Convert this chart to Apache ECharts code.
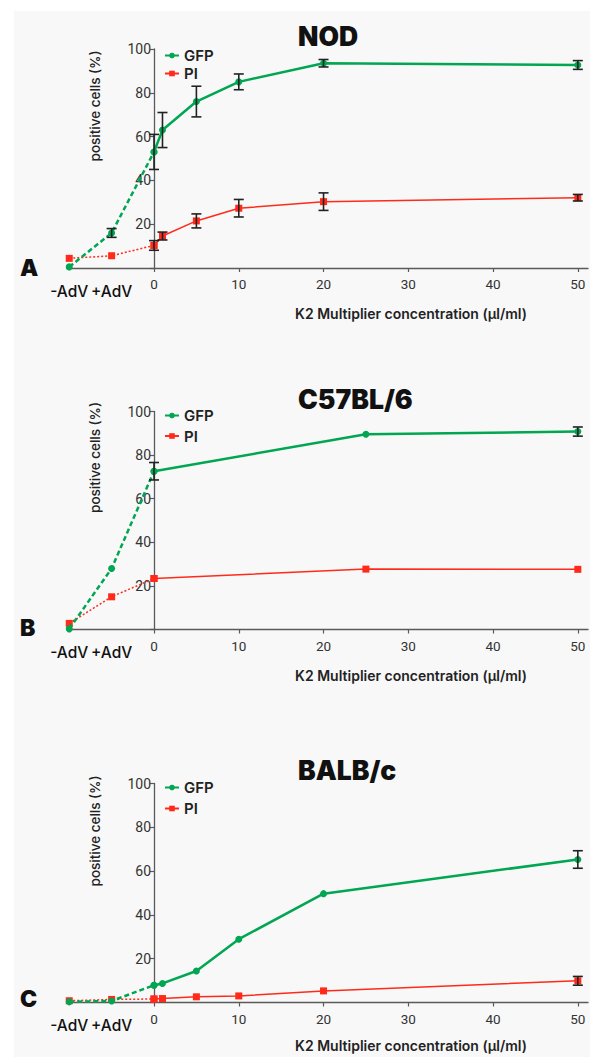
<!DOCTYPE html>
<html><head><meta charset="utf-8">
<script src="https://cdn.jsdelivr.net/npm/echarts@6/dist/echarts.min.js"></script>
<style>html,body{margin:0;padding:0;background:#fff}#c{width:590px;height:1057px}</style>
</head><body><div id="c"></div>
<script>
// ---- data ----
const panelTitles = ['NOD', 'C57BL/6', 'BALB/c'];
const panelLetters = ['A', 'B', 'C'];
const controlLabels = ['-AdV', '+AdV'];
const controlX = [-10, -5];
const xTicks = [0, 10, 20, 30, 40, 50];
const xAxisName = 'K2 Multiplier concentration (µl/ml)';
const yAxisName = 'positive cells (%)';

// Panel A (NOD)
const concA = [0, 1, 5, 10, 20, 50];
const gfpCtrlA = [0.5, 16];
const gfpCtrlErrA = [0, 2];
const gfpA = [53, 63, 76, 85, 93.5, 92.7];
const gfpErrA = [8, 8, 7, 3.6, 1.7, 2];
const piCtrlA = [4.4, 5.6];
const piCtrlErrA = [0, 0];
const piA = [10.3, 14.6, 21.5, 27.3, 30.3, 32.1];
const piErrA = [2.2, 1.8, 3.2, 4, 4, 1.5];

// Panel B (C57BL/6)
const concB = [0, 25, 50];
const gfpCtrlB = [0.3, 28];
const gfpCtrlErrB = [0, 0];
const gfpB = [72.6, 89.6, 90.8];
const gfpErrB = [4, 0, 2.1];
const piCtrlB = [2.8, 15];
const piCtrlErrB = [0, 0];
const piB = [23.4, 27.7, 27.6];
const piErrB = [0, 0, 0];

// Panel C (BALB/c)
const concC = [0, 1, 5, 10, 20, 50];
const gfpCtrlC = [0.3, 0.7];
const gfpCtrlErrC = [0, 0];
const gfpC = [7.9, 8.7, 14.4, 28.9, 49.7, 65.3];
const gfpErrC = [0, 0, 0, 0, 0, 4];
const piCtrlC = [0.8, 1.4];
const piCtrlErrC = [0, 0];
const piC = [1.6, 1.8, 2.6, 3.0, 5.3, 9.9];
const piErrC = [0, 0, 0, 0, 0, 2];

// ---- build ----
const panels = [
  {conc: concA, gfpCtrl: gfpCtrlA, gfpCtrlErr: gfpCtrlErrA, gfp: gfpA, gfpErr: gfpErrA, piCtrl: piCtrlA, piCtrlErr: piCtrlErrA, pi: piA, piErr: piErrA},
  {conc: concB, gfpCtrl: gfpCtrlB, gfpCtrlErr: gfpCtrlErrB, gfp: gfpB, gfpErr: gfpErrB, piCtrl: piCtrlB, piCtrlErr: piCtrlErrB, pi: piB, piErr: piErrB},
  {conc: concC, gfpCtrl: gfpCtrlC, gfpCtrlErr: gfpCtrlErrC, gfp: gfpC, gfpErr: gfpErrC, piCtrl: piCtrlC, piCtrlErr: piCtrlErrC, pi: piC, piErr: piErrC}
];

// layout (styles)
const GREEN = '#00a651', RED = '#ff2a1a', AXIS = '#5a5a5a';
const FONT = 'Inter';
const gridLeft = 66.7, gridRight = 2, xMin = -10.3, xMax = 51.2;
const yAxisOffset = -(590 - gridLeft - gridRight) * (0 - xMin) / (xMax - xMin);
const gridTops = [49, 411.5, 783.5];
const gridH = [219, 218, 219];
const legendTops = [43, 403, 775];
const legendGaps = [3, 5.5, 6];
const titleY = [35.5, 399, 770];
const letterY = [268, 628, 999];
const yNameY = [106, 457.5, 831];
const xNameY = [313, 675, 1045];

function pts(xs, ys) { return xs.map((x, i) => [x, ys[i]]); }

function errSeries(name, xs, ys, errs, gi) {
  const data = [];
  xs.forEach((x, i) => { if (errs[i]) data.push([x, ys[i], errs[i]]); });
  return {
    type: 'custom', name: name, xAxisIndex: gi, yAxisIndex: gi, z: 6, silent: true,
    data: data, encode: {x: 0, y: 1},
    renderItem: function (params, api) {
      const x = api.value(0), y = api.value(1), e = api.value(2);
      const t = api.coord([x, y + e]), b = api.coord([x, y - e]);
      const w = 5;
      const st = {stroke: '#222', lineWidth: 1.6};
      return {type: 'group', children: [
        {type: 'line', shape: {x1: t[0], y1: t[1], x2: b[0], y2: b[1]}, style: st},
        {type: 'line', shape: {x1: t[0] - w, y1: t[1], x2: t[0] + w, y2: t[1]}, style: st},
        {type: 'line', shape: {x1: b[0] - w, y1: b[1], x2: b[0] + w, y2: b[1]}, style: st}
      ]};
    }
  };
}

const grids = [], xAxes = [], yAxes = [], series = [], legends = [], graphics = [];

graphics.push({type: 'rect', left: 0, top: 0, shape: {width: 590, height: 11}, style: {fill: '#ffffff'}, z: -1});
graphics.push({type: 'rect', left: 0, top: 0, shape: {width: 14, height: 1057}, style: {fill: '#ffffff'}, z: -1});

panels.forEach((p, i) => {
  grids.push({left: gridLeft, right: gridRight, top: gridTops[i], height: gridH[i]});
  xAxes.push({
    type: 'value', gridIndex: i, min: xMin, max: xMax,
    splitLine: {show: false},
    axisLine: {onZero: false, lineStyle: {color: AXIS, width: 1.3}},
    axisTick: {customValues: xTicks, length: 4, lineStyle: {color: AXIS, width: 1.2}},
    axisLabel: {
      customValues: controlX.concat(xTicks), margin: 9, color: '#333', fontSize: 13.5, fontFamily: 'Roboto',
      formatter: function (v) {
        const k = controlX.indexOf(v);
        return k >= 0 ? '{adv|' + controlLabels[k] + '}' : String(v);
      },
      rich: {adv: {fontSize: 15.5, fontWeight: 500, color: '#111', fontFamily: FONT, padding: [6, 0, 0, 0]}}
    }
  });
  yAxes.push({
    type: 'value', gridIndex: i, min: 0, max: 100, interval: 20, offset: yAxisOffset,
    splitLine: {show: false},
    axisLine: {onZero: false, lineStyle: {color: AXIS, width: 1.3}},
    axisTick: {length: 4, lineStyle: {color: AXIS, width: 1.2}},
    axisLabel: {margin: 3, color: '#333', fontSize: 14, fontFamily: 'Roboto',
      formatter: function (v) { return v === 0 ? '' : String(v); }}
  });

  series.push({
    name: 'GFP', type: 'line', xAxisIndex: i, yAxisIndex: i, z: 4,
    data: pts(p.conc, p.gfp), symbol: 'circle', symbolSize: 7,
    lineStyle: {color: GREEN, width: 2.5}, itemStyle: {color: GREEN}
  });
  series.push({
    name: 'PI', type: 'line', xAxisIndex: i, yAxisIndex: i, z: 3,
    data: pts(p.conc, p.pi), symbol: 'rect', symbolSize: 7,
    lineStyle: {color: RED, width: 1.5}, itemStyle: {color: RED}
  });
  series.push({
    name: 'GFP', type: 'line', xAxisIndex: i, yAxisIndex: i, z: 4,
    data: pts(controlX, p.gfpCtrl).concat([[p.conc[0], p.gfp[0]]]),
    symbol: 'circle', symbolSize: 7,
    lineStyle: {color: GREEN, width: 2.5, type: [5, 3]}, itemStyle: {color: GREEN}
  });
  series.push({
    name: 'PI', type: 'line', xAxisIndex: i, yAxisIndex: i, z: 3,
    data: pts(controlX, p.piCtrl).concat([[p.conc[0], p.pi[0]]]),
    symbol: 'rect', symbolSize: 7,
    lineStyle: {color: RED, width: 1.5, type: [2, 2]}, itemStyle: {color: RED}
  });
  series.push(errSeries('GFP err', p.conc, p.gfp, p.gfpErr, i));
  series.push(errSeries('PI err', p.conc, p.pi, p.piErr, i));
  series.push(errSeries('GFP ctrl err', controlX, p.gfpCtrl, p.gfpCtrlErr, i));
  series.push(errSeries('PI ctrl err', controlX, p.piCtrl, p.piCtrlErr, i));

  legends.push({
    data: ['GFP', 'PI'], orient: 'vertical', left: 159, top: legendTops[i],
    itemWidth: 14, itemHeight: 7, itemGap: legendGaps[i], selectedMode: false,
    textStyle: {fontSize: 15, fontWeight: 600, color: '#222', fontFamily: FONT}
  });

  graphics.push({type: 'text', x: 298, y: titleY[i],
    style: {text: panelTitles[i], fontSize: 26.5, fontWeight: 900, fontFamily: FONT, fill: '#111', verticalAlign: 'middle', align: 'left'}});
  graphics.push({type: 'text', x: 20, y: letterY[i],
    style: {text: panelLetters[i], fontSize: 23, fontWeight: 900, fontFamily: FONT, fill: '#111', verticalAlign: 'middle', align: 'left'}});
  graphics.push({type: 'text', x: 95, y: yNameY[i], rotation: Math.PI / 2,
    style: {text: yAxisName, fontSize: 13.5, fontWeight: 500, fontFamily: FONT, fill: '#222', verticalAlign: 'middle', align: 'center'}});
  graphics.push({type: 'text', x: 411, y: xNameY[i],
    style: {text: xAxisName, fontSize: 14, fontWeight: 600, fontFamily: FONT, fill: '#222', verticalAlign: 'middle', align: 'center'}});
});

const chart = echarts.init(document.getElementById('c'), null, {renderer: 'svg'});
chart.setOption({
  backgroundColor: '#f8f8f8',
  animation: false,
  grid: grids, xAxis: xAxes, yAxis: yAxes, series: series, legend: legends,
  graphic: graphics
});
</script>
</body></html>
